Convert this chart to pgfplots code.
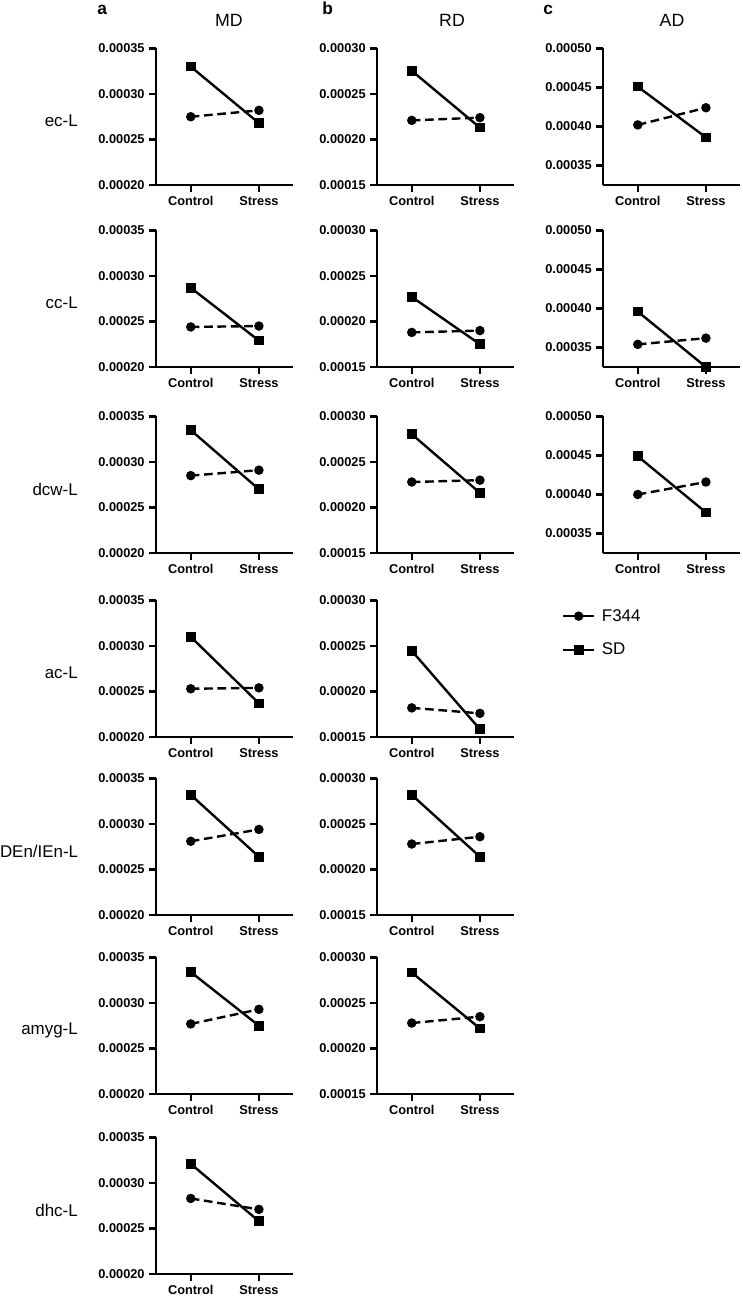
\documentclass[border=0pt]{standalone}
\usepackage{fontspec}
\setmainfont{Liberation Sans}
\usepackage{pgfplots}
\pgfplotsset{compat=1.18}
\newcommand\tickfont{\bfseries\fontsize{9.6}{11}\selectfont}
\newcommand\rowfont{\fontsize{12.7}{15}\selectfont}
\pgfplotsset{
  panel/.style={
    scale only axis, width=102.75pt, height=102.4pt,
    anchor=south west,
    axis x line*=bottom, axis y line*=left,
    axis line style={line width=2.2pt, black},
    xmin=-0.51, xmax=1.5,
    xtick={0,1}, xticklabels={Control,Stress},
    tick align=outside, major tick length=5pt,
    tick style={black, line width=1.8pt},
    scaled y ticks=false,
    yticklabel style={/pgf/number format/fixed, /pgf/number format/fixed zerofill, /pgf/number format/precision=5, /pgf/number format/assume math mode=true},
    ticklabel style={font=\tickfont},
    clip=false,
  },
  md/.style={panel, ymin=0.0002, ymax=0.00035, ytick={0.0002,0.00025,0.0003,0.00035}},
  rd/.style={panel, ymin=0.00015, ymax=0.0003, ytick={0.00015,0.0002,0.00025,0.0003}},
  ad/.style={panel, ymin=0.000325, ymax=0.0005, ytick={0.00035,0.0004,0.00045,0.0005}},
  f344/.style={black, line width=1.8pt, dash pattern=on 6.5pt off 3.5pt, mark=*, mark size=2.6pt, mark options={solid}},
  sd/.style={black, line width=1.8pt, solid, mark=square*, mark size=2.7pt, mark options={solid}},
}
\begin{document}
\begin{tikzpicture}
\useasboundingbox (0,0) rectangle (556.5pt,-975.75pt);
% headers
\node[anchor=base west, font=\bfseries\fontsize{13}{15}\selectfont, inner sep=0pt] at (72.75pt,-11.25pt) {a};
\node[anchor=base west, font=\bfseries\fontsize{13}{15}\selectfont, inner sep=0pt] at (241.5pt,-11.25pt) {b};
\node[anchor=base west, font=\bfseries\fontsize{13}{15}\selectfont, inner sep=0pt] at (407.25pt,-11.25pt) {c};
\node[anchor=base, font=\fontsize{13.3}{15}\selectfont, inner sep=0pt] at (171.75pt,-20.25pt) {MD};
\node[anchor=base, font=\fontsize{13.3}{15}\selectfont, inner sep=0pt] at (339pt,-20.25pt) {RD};
\node[anchor=base, font=\fontsize{13.3}{15}\selectfont, inner sep=0pt] at (504pt,-20.25pt) {AD};
% row labels
\node[anchor=east, font=\rowfont, inner sep=0pt] at (58.5pt,-90.4pt) {ec-L};
\node[anchor=east, font=\rowfont, inner sep=0pt] at (58.5pt,-226.9pt) {cc-L};
\node[anchor=east, font=\rowfont, inner sep=0pt] at (58.5pt,-366.75pt) {dcw-L};
\node[anchor=east, font=\rowfont, inner sep=0pt] at (58.5pt,-504.75pt) {ac-L};
\node[anchor=east, font=\rowfont, inner sep=0pt] at (58.8pt,-638.25pt) {DEn/IEn-L};
\node[anchor=east, font=\rowfont, inner sep=0pt] at (58.5pt,-772.5pt) {amyg-L};
\node[anchor=east, font=\rowfont, inner sep=0pt] at (58.5pt,-907.9pt) {dhc-L};

% ---------- MD ----------
\begin{axis}[md, at={(117pt,-138.75pt)}]
\addplot[f344] coordinates {(0,0.000275) (1,0.000282)};
\addplot[sd] coordinates {(0,0.000330) (1,0.000268)};
\end{axis}
\begin{axis}[md, at={(117pt,-275.25pt)}]
\addplot[f344] coordinates {(0,0.000244) (1,0.000245)};
\addplot[sd] coordinates {(0,0.000287) (1,0.000229)};
\end{axis}
\begin{axis}[md, at={(117pt,-414.75pt)}]
\addplot[f344] coordinates {(0,0.000285) (1,0.000291)};
\addplot[sd] coordinates {(0,0.000335) (1,0.000270)};
\end{axis}
\begin{axis}[md, at={(117pt,-552.75pt)}]
\addplot[f344] coordinates {(0,0.000253) (1,0.000254)};
\addplot[sd] coordinates {(0,0.000310) (1,0.000237)};
\end{axis}
\begin{axis}[md, at={(117pt,-686.25pt)}]
\addplot[f344] coordinates {(0,0.000281) (1,0.000294)};
\addplot[sd] coordinates {(0,0.000332) (1,0.000264)};
\end{axis}
\begin{axis}[md, at={(117pt,-820.5pt)}]
\addplot[f344] coordinates {(0,0.000277) (1,0.000293)};
\addplot[sd] coordinates {(0,0.000334) (1,0.000275)};
\end{axis}
\begin{axis}[md, at={(117pt,-955.5pt)}]
\addplot[f344] coordinates {(0,0.000283) (1,0.000271)};
\addplot[sd] coordinates {(0,0.000321) (1,0.000258)};
\end{axis}

% ---------- RD ----------
\begin{axis}[rd, at={(282.75pt,-138.75pt)}]
\addplot[f344] coordinates {(0,0.000221) (1,0.000224)};
\addplot[sd] coordinates {(0,0.0002755) (1,0.000213)};
\end{axis}
\begin{axis}[rd, at={(282.75pt,-275.25pt)}]
\addplot[f344] coordinates {(0,0.000188) (1,0.000190)};
\addplot[sd] coordinates {(0,0.000227) (1,0.000175)};
\end{axis}
\begin{axis}[rd, at={(282.75pt,-414.75pt)}]
\addplot[f344] coordinates {(0,0.000228) (1,0.000230)};
\addplot[sd] coordinates {(0,0.0002805) (1,0.000216)};
\end{axis}
\begin{axis}[rd, at={(282.75pt,-552.75pt)}]
\addplot[f344] coordinates {(0,0.000182) (1,0.000176)};
\addplot[sd] coordinates {(0,0.0002447) (1,0.0001585)};
\end{axis}
\begin{axis}[rd, at={(282.75pt,-686.25pt)}]
\addplot[f344] coordinates {(0,0.000228) (1,0.000236)};
\addplot[sd] coordinates {(0,0.000282) (1,0.000214)};
\end{axis}
\begin{axis}[rd, at={(282.75pt,-820.5pt)}]
\addplot[f344] coordinates {(0,0.000228) (1,0.000235)};
\addplot[sd] coordinates {(0,0.0002835) (1,0.000222)};
\end{axis}

% ---------- AD ----------
\begin{axis}[ad, at={(452.25pt,-138.75pt)}]
\addplot[f344] coordinates {(0,0.000402) (1,0.000424)};
\addplot[sd] coordinates {(0,0.000451) (1,0.000386)};
\end{axis}
\begin{axis}[ad, at={(452.25pt,-275.25pt)}]
\addplot[f344] coordinates {(0,0.000354) (1,0.000362)};
\addplot[sd] coordinates {(0,0.000396) (1,0.000325)};
\end{axis}
\begin{axis}[ad, at={(452.25pt,-414.75pt)},
  legend style={draw=none, fill=none, at={(-0.30,-0.40)}, anchor=north west,
    font=\rowfont, row sep=13pt, inner sep=0pt, nodes={inner xsep=5pt, inner ysep=1pt}},
  legend cell align=left,
  legend image code/.code={\draw[mark repeat=2, mark phase=2, #1, solid] plot coordinates {(0pt,0pt) (11.5pt,0pt) (23pt,0pt)};}]
\addplot[f344] coordinates {(0,0.000400) (1,0.000416)};
\addplot[sd] coordinates {(0,0.000449) (1,0.000377)};
\legend{F344, SD}
\end{axis}
\end{tikzpicture}
\end{document}
